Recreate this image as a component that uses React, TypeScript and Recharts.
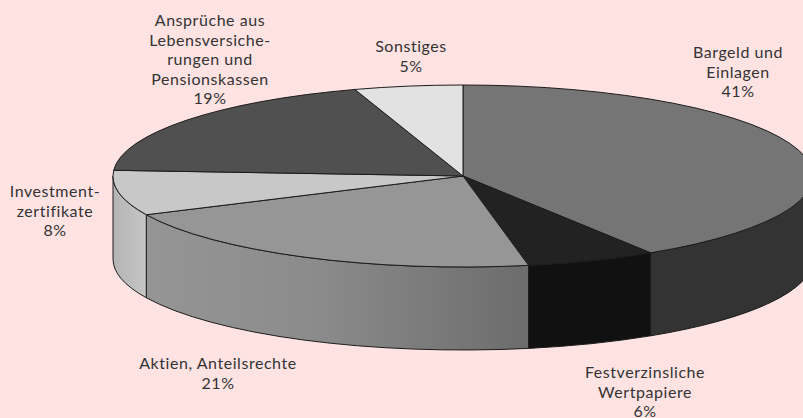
import React from "react";
import { PieChart, Pie } from "recharts";

const categories = ["Bargeld und Einlagen", "Festverzinsliche Wertpapiere", "Aktien, Anteilsrechte", "Investmentzertifikate", "Ansprüche aus Lebensversicherungen und Pensionskassen", "Sonstiges"];
const values = [41, 6, 21, 8, 19, 5];
const labelLines = [
  ["Bargeld und", "Einlagen"],
  ["Festverzinsliche", "Wertpapiere"],
  ["Aktien, Anteilsrechte"],
  ["Investment-", "zertifikate"],
  ["Ansprüche aus", "Lebensversiche-", "rungen und", "Pensionskassen"],
  ["Sonstiges"],
];
const topColors = ["#757575", "#222222", "#969696", "#c8c8c8", "#505050", "#e2e2e2"];
const wallColors = ["#333333", "#111111", "url(#wallAktien)", "url(#wallInvest)", "#505050", "#e2e2e2"];
// where each label block sits: centre x, first line y
const labelSpots = [
  [738, 58],
  [645, 378],
  [218, 369],
  [55, 197],
  [210, 26],
  [411, 52],
];

const data = categories.map((name, i) => ({ name, value: values[i] }));

const TILT = 0.26;
const DEPTH = 83;
const rad = (a: number) => (a * Math.PI) / 180;

function Slice(props: any) {
  const { cx, cy, outerRadius: rx, startAngle, endAngle, index } = props;
  const ry = rx * TILT;
  const px = (a: number) => cx + rx * Math.cos(rad(a));
  const py = (a: number) => cy - ry * Math.sin(rad(a));
  const large = Math.abs(startAngle - endAngle) > 180 ? 1 : 0;
  const top = `M${cx},${cy} L${px(startAngle)},${py(startAngle)} A${rx},${ry} 0 ${large} 1 ${px(endAngle)},${py(endAngle)} Z`;

  // the wall only shows on the front half of the rim
  const a0 = Math.min(startAngle, 0);
  const a1 = Math.max(endAngle, -180);
  let wall = null;
  if (a0 > a1) {
    const d =
      `M${px(a0)},${py(a0)} A${rx},${ry} 0 0 1 ${px(a1)},${py(a1)} ` +
      `L${px(a1)},${py(a1) + DEPTH} A${rx},${ry} 0 0 0 ${px(a0)},${py(a0) + DEPTH} Z`;
    wall = <path d={d} fill={wallColors[index]} stroke="#1c1c1c" strokeWidth={1} />;
  }
  return (
    <g>
      {wall}
      <path d={top} fill={topColors[index]} stroke="#1c1c1c" strokeWidth={1} />
    </g>
  );
}

function SliceLabel(props: any) {
  const { index } = props;
  const [x, y] = labelSpots[index];
  const lines = [...labelLines[index], values[index] + "%"];
  return (
    <text x={x} y={y} textAnchor="middle" fontFamily="Lato, sans-serif" fontSize={16} letterSpacing={0.55} fill="#333333">
      {lines.map((line, i) => (
        <tspan key={i} x={x} dy={i === 0 ? 0 : 19.6}>
          {line}
        </tspan>
      ))}
    </text>
  );
}

export default function App() {
  return (
    <div style={{ position: "absolute", left: 0, top: 0, width: 803, height: 418, overflow: "hidden", background: "#ffe3e3" }}>
      <PieChart width={803} height={418} margin={{ top: 0, right: 0, bottom: 0, left: 0 }} style={{ overflow: "hidden" }}>
        <defs>
          <linearGradient id="wallAktien" x1="0" y1="0" x2="1" y2="0">
            <stop offset="0" stopColor="#959595" />
            <stop offset="0.45" stopColor="#8b8b8b" />
            <stop offset="1" stopColor="#6c6c6c" />
          </linearGradient>
          <linearGradient id="wallInvest" x1="0" y1="0" x2="1" y2="0">
            <stop offset="0" stopColor="#b4b4b4" />
            <stop offset="1" stopColor="#c6c6c6" />
          </linearGradient>
        </defs>
        <Pie
          data={data}
          dataKey="value"
          nameKey="name"
          cx={463}
          cy={176}
          innerRadius={0}
          outerRadius={350}
          startAngle={90}
          endAngle={-270}
          paddingAngle={0}
          shape={Slice}
          label={SliceLabel}
          labelLine={false}
          isAnimationActive={false}
        />
      </PieChart>
    </div>
  );
}
